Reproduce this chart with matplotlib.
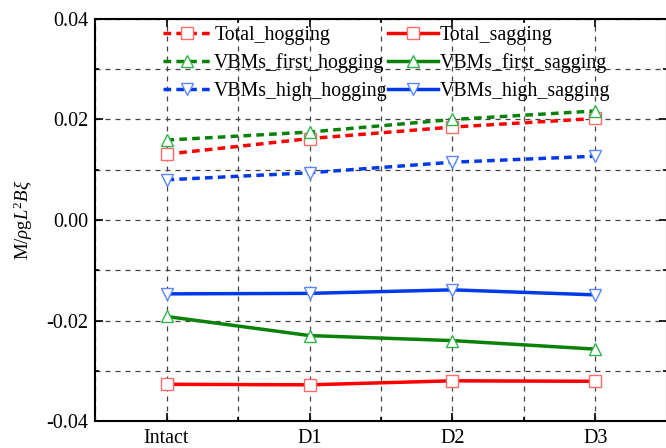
import numpy as np
import matplotlib
matplotlib.use('Agg')
from matplotlib import pyplot as plt
from matplotlib.ticker import MultipleLocator, FormatStrFormatter

plt.rcParams['font.family'] = 'Liberation Serif'
plt.rcParams['mathtext.fontset'] = 'custom'
plt.rcParams['mathtext.rm'] = 'Liberation Serif'
plt.rcParams['mathtext.it'] = 'Liberation Serif:italic'

cases = ['Intact', 'D1', 'D2', 'D3']

total_hogging = [0.0131, 0.0162, 0.0185, 0.0202]
total_sagging = [-0.0327, -0.0328, -0.0320, -0.0321]
first_hogging = [0.0159, 0.0175, 0.0200, 0.0217]
first_sagging = [-0.0192, -0.0230, -0.0240, -0.0257]
high_hogging = [0.0080, 0.0094, 0.0115, 0.0127]
high_sagging = [-0.0147, -0.0146, -0.0139, -0.0149]

x = np.arange(len(cases))

fig = plt.figure(figsize=(6.66, 4.48), dpi=100)
ax = fig.add_axes([95 / 666, 27 / 448, 572 / 666, 402 / 448])

red, green, blue = '#ff0000', '#0a820a', '#0039e6'
red_m, green_m, blue_m = '#ff6a6a', '#33b34a', '#5a86ff'
dash = (0, (2.2, 1.5))

# hogging curves dashed, sagging curves solid
series = [
    (total_hogging, 'Total_hogging', red, red_m, 's', dash),
    (first_hogging, 'VBMs_first_hogging', green, green_m, '^', dash),
    (high_hogging, 'VBMs_high_hogging', blue, blue_m, 'v', dash),
    (total_sagging, 'Total_sagging', red, red_m, 's', '-'),
    (first_sagging, 'VBMs_first_sagging', green, green_m, '^', '-'),
    (high_sagging, 'VBMs_high_sagging', blue, blue_m, 'v', '-'),
]
for vals, label, c, mc, mk, ls in series:
    ax.plot(x, vals, color=c, ls=ls, lw=2.5, marker=mk, ms=8,
            mfc='white', mec=mc, mew=1.0, label=label, zorder=3)

ax.set_xlim(-0.5, 3.5)
ax.set_ylim(-0.04, 0.04)
ax.set_xticks(x)
ax.set_xticklabels(cases)
ax.xaxis.set_minor_locator(MultipleLocator(0.5))
ax.yaxis.set_major_locator(MultipleLocator(0.02))
ax.yaxis.set_minor_locator(MultipleLocator(0.01))
ax.yaxis.set_major_formatter(FormatStrFormatter('%.2f'))

ax.grid(True, which='both', color='#444444', ls=(0, (4, 4)), lw=0.9)
ax.tick_params(which='both', direction='in', top=True, right=True,
               labelsize=14.5, width=1.2)
ax.tick_params(which='major', length=6)
ax.tick_params(which='minor', length=3)
ax.tick_params(axis='x', pad=6)
ax.tick_params(axis='y', pad=5)
for s in ax.spines.values():
    s.set_linewidth(1.5)

ax.set_ylabel(r'M/$\rho$g$\mathit{L}^2\mathit{B\xi}$', fontsize=13.5, labelpad=8)

ax.legend(ncol=2, loc='upper left', bbox_to_anchor=(0.106, 1.0), frameon=False,
          fontsize=14.3, handlelength=2.5, handletextpad=0.1, columnspacing=0.0,
          labelspacing=0.42, borderaxespad=0.0, borderpad=0.35)

fig.savefig('out.png', dpi=100)
